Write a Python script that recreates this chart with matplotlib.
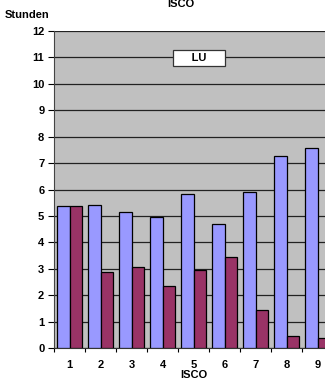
import numpy as np
import matplotlib.pyplot as plt

plt.rcParams['font.family'] = ['Liberation Sans', 'DejaVu Sans']
plt.rcParams['font.weight'] = 'bold'

isco = ['1', '2', '3', '4', '5', '6', '7', '8', '9']
serie_blau = [5.37, 5.42, 5.16, 4.95, 5.84, 4.69, 5.92, 7.28, 7.57]
serie_rot = [5.37, 2.86, 3.07, 2.35, 2.95, 3.44, 1.43, 0.45, 0.38]

fig = plt.figure(figsize=(3.25, 3.81), dpi=100)
ax = fig.add_axes([54 / 325, 33 / 381, 279 / 325, 317 / 381])
ax.set_facecolor('#c0c0c0')

x = np.arange(len(isco))
w = 0.4
ax.bar(x - w / 2, serie_blau, w, color='#9999ff', edgecolor='black', linewidth=0.9, zorder=3)
ax.bar(x + w / 2, serie_rot, w, color='#993366', edgecolor='black', linewidth=0.9, zorder=3)

ax.set_xlim(-0.5, len(isco) - 0.5)
ax.set_ylim(0, 12)
ax.set_yticks(range(0, 13))
ax.set_xticks(x)
ax.set_xticklabels(isco)
ax.set_xticks(np.arange(-0.5, len(isco)), minor=True)
ax.tick_params(axis='x', which='major', length=0, labelsize=8, pad=9)
ax.tick_params(axis='x', which='minor', length=3, width=0.8, direction='out')
ax.tick_params(axis='y', length=4, width=0.8, labelsize=8, pad=3)
ax.yaxis.grid(True, color='#222222', linewidth=0.9, zorder=1)
for s in ['top', 'right']:
    ax.spines[s].set_visible(False)
ax.spines['left'].set_color('#444444')
ax.spines['bottom'].set_color('#333333')

ax.set_xlabel('ISCO', fontsize=8, fontweight='bold', labelpad=0)
fig.text(5 / 325, 1 - 15 / 381, 'Stunden', fontsize=8, fontweight='bold', va='center')
fig.text(181 / 325, 1 - 4 / 381, 'ISCO', fontsize=8, fontweight='bold', ha='center', va='center')

ax.text(0.52, 0.915, '     LU     ', transform=ax.transAxes, ha='center', va='center',
        fontsize=8, fontweight='bold', zorder=5,
        bbox=dict(boxstyle='square,pad=0.3', facecolor='white', edgecolor='#333333', linewidth=0.9))

fig.savefig('out.png', dpi=100)
